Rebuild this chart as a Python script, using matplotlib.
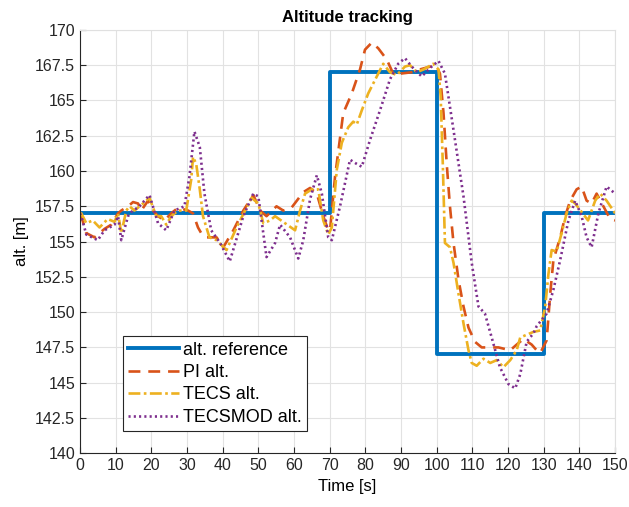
import numpy as np
import matplotlib.pyplot as plt

plt.rcParams['font.family'] = ['Liberation Sans', 'DejaVu Sans']

# altitude reference (step profile)
ref_t = [0, 70, 70, 100, 100, 130, 130, 150]
ref_alt = [157, 157, 167, 167, 147, 147, 157, 157]

# PI controller
pi_t = [0, 0.4, 1.8, 4.1, 6.9, 8.8, 10.7, 11.6, 13.5, 14.9, 16.3, 17.2, 19.1, 20.5,
        21.9, 23.7, 25.6, 27.5, 30.3, 31.7, 33.1, 34.0, 35.4, 38.3, 40.2, 43.0,
        45.8, 48.6, 50.5, 52.3, 55.1, 57.0, 59.3, 62.6, 64.5, 66.4, 68.2, 69.6,
        70.1, 71.5, 73.8, 76.2, 78.5, 79.9, 81.8, 83.6, 86.0, 87.8, 89.7, 93.0,
        95.3, 98.1, 100.0, 100.9, 101.9, 102.8, 103.7, 104.7, 106.1, 107.5, 108.9,
        110.7, 112.6, 115.4, 117.3, 120.6, 122.4, 124.3, 126.6, 128.0, 129.0,
        130.8, 131.8, 132.7, 134.6, 136.0, 137.4, 139.2, 140.6, 142.0, 143.4,
        144.8, 146.7, 148.6, 150]
pi_alt = [157.0, 156.8, 155.6, 155.3, 155.9, 156.2, 157.0, 157.2, 157.5, 157.8, 157.7,
          157.2, 157.9, 157.2, 156.8, 156.5, 157.0, 157.4, 157.2, 157.0, 156.0, 155.6,
          155.3, 155.3, 154.6, 155.8, 157.2, 158.3, 157.2, 156.8, 157.5, 157.2, 157.4,
          158.5, 158.8, 158.4, 156.8, 155.8, 155.8, 159.6, 164.1, 165.5, 167.2, 168.6,
          169.1, 168.7, 167.9, 166.9, 166.9, 167.0, 167.2, 167.4, 167.4, 166.9, 164.1,
          160.5, 157.5, 154.9, 152.3, 150.4, 148.9, 147.9, 147.5, 147.5, 147.5, 147.3,
          147.7, 148.1, 147.7, 147.3, 147.1, 148.0, 151.3, 153.7, 155.3, 156.8, 157.9,
          158.7, 158.9, 157.9, 157.7, 158.4, 157.5, 156.6, 156.5]

# TECS controller
tecs_t = [0, 0.4, 1.8, 3.6, 5.5, 7.8, 9.7, 10.7, 11.6, 13.0, 13.9, 15.3, 17.7, 19.5,
          21.4, 22.8, 24.2, 25.6, 27.5, 29.8, 31.2, 31.7, 32.6, 33.6, 34.5, 36.3,
          38.3, 41.1, 43.9, 46.3, 48.1, 50.0, 51.4, 53.3, 54.7, 57.5, 60.3, 61.7,
          63.1, 65.0, 66.8, 68.2, 69.6, 70.6, 72.0, 73.4, 75.2, 76.6, 77.6, 79.0,
          80.8, 83.2, 85.0, 86.9, 88.8, 91.1, 92.5, 94.4, 96.3, 99.0, 100.5, 101.1,
          101.7, 102.3, 103.7, 104.7, 106.1, 107.5, 108.9, 109.8, 111.2, 113.1,
          115.0, 116.8, 118.7, 120.6, 122.4, 123.4, 125.2, 127.1, 129.0, 130.4,
          131.3, 132.2, 133.6, 135.0, 136.4, 137.8, 138.8, 140.6, 142.4, 144.4,
          145.8, 147.6, 150]
tecs_alt = [157.0, 157.0, 156.3, 156.5, 156.0, 156.6, 156.4, 157.0, 155.6, 157.2, 157.5,
            157.2, 157.7, 158.1, 156.8, 156.8, 156.2, 156.8, 157.2, 157.2, 159.4, 161.0,
            160.5, 158.7, 156.8, 155.3, 155.1, 154.4, 156.0, 157.2, 158.1, 157.7, 156.3,
            156.5, 156.8, 156.3, 155.8, 157.2, 158.4, 158.7, 158.7, 156.5, 155.5, 156.0,
            160.1, 162.0, 163.1, 163.5, 163.3, 164.3, 165.5, 166.7, 167.6, 167.0, 166.8,
            167.4, 167.5, 167.0, 167.2, 167.6, 167.2, 165.3, 160.5, 154.9, 154.6, 153.5,
            151.3, 149.2, 147.3, 146.4, 146.2, 146.7, 146.4, 146.6, 146.1, 146.6, 147.3,
            148.2, 148.4, 148.6, 148.7, 150.4, 152.7, 154.4, 154.3, 155.6, 157.0, 157.9,
            157.7, 157.1, 156.5, 157.9, 158.4, 157.9, 157.0]

# modified TECS controller
mod_t = [0, 0.4, 1.8, 5.0, 6.9, 9.7, 10.7, 11.6, 13.5, 14.4, 16.7, 19.5, 21.9, 24.2,
         26.5, 29.3, 30.7, 32.1, 33.6, 34.9, 36.8, 39.3, 42.0, 45.8, 48.6, 50.0,
         52.3, 54.7, 56.1, 58.9, 61.2, 62.6, 64.5, 66.4, 67.8, 69.6, 70.6, 72.9,
         75.7, 77.6, 79.0, 81.3, 84.1, 86.9, 89.2, 91.1, 93.0, 95.8, 98.1, 100.5,
         102.3, 104.7, 107.5, 109.8, 111.7, 113.5, 115.4, 117.7, 120.1, 122.0,
         123.4, 125.2, 127.1, 128.0, 130.8, 132.7, 134.6, 136.9, 138.8, 140.6,
         142.0, 143.4, 145.3, 147.6, 150]
mod_alt = [157.0, 156.8, 155.5, 155.1, 155.8, 156.2, 156.8, 155.1, 156.8, 157.1, 157.5,
           158.3, 156.3, 155.8, 157.2, 157.5, 159.6, 162.8, 161.7, 158.4, 155.8, 154.9,
           153.6, 156.8, 158.4, 158.2, 153.9, 154.9, 156.2, 155.3, 153.8, 155.1, 158.0,
           159.7, 158.4, 155.3, 155.1, 157.5, 160.8, 160.5, 160.3, 162.2, 164.3, 166.5,
           167.6, 168.0, 167.4, 166.7, 167.3, 167.8, 166.9, 162.9, 158.2, 153.5, 150.4,
           149.9, 148.2, 146.1, 144.9, 144.6, 145.6, 147.9, 148.5, 149.0, 149.9, 151.6,
           153.7, 156.5, 157.9, 156.8, 155.3, 154.6, 157.0, 158.9, 158.4]

fig, ax = plt.subplots(figsize=(6.29, 5.07), dpi=100)
fig.subplots_adjust(left=0.127, right=0.978, bottom=0.106, top=0.941)

ax.plot(ref_t, ref_alt, color='#0072BD', lw=2.8, label='alt. reference')
ax.plot(pi_t, pi_alt, color='#D95319', lw=1.9, ls=(0, (4.5, 3)), label='PI alt.')
ax.plot(tecs_t, tecs_alt, color='#EDB120', lw=1.9, ls=(0, (4.5, 1.3, 1.0, 1.3)), label='TECS alt.')
ax.plot(mod_t, mod_alt, color='#7E2F8E', lw=1.9, ls=(0, (0.8, 1.2)), label='TECSMOD alt.')

ax.set_xlim(0, 150)
ax.set_ylim(140, 170)
ax.set_xticks(np.arange(0, 151, 10))
yt = np.arange(140, 170.1, 2.5)
ax.set_yticks(yt)
ax.set_yticklabels([f'{v:g}' for v in yt])
ax.tick_params(direction='in', labelsize=11.5, length=4, top=False, right=False, colors='#262626')
ax.grid(True, color='#e2e2e2', lw=0.8)
ax.set_axisbelow(True)
for s in ['top', 'right']:
    ax.spines[s].set_color('#e0e0e0')
for s in ['left', 'bottom']:
    ax.spines[s].set_color('#262626')

ax.set_title('Altitude tracking', fontsize=12, fontweight='bold')
ax.set_xlabel('Time [s]', fontsize=12)
ax.set_ylabel('alt. [m]', fontsize=12)

leg = ax.legend(loc='lower left', bbox_to_anchor=(0.08, 0.052), fontsize=13,
                fancybox=False, framealpha=1, edgecolor='#262626',
                handlelength=2.8, handletextpad=0.25, borderpad=0.3, labelspacing=0.3,
                borderaxespad=0)
leg.get_frame().set_linewidth(0.8)

plt.savefig('out.png', dpi=100)
